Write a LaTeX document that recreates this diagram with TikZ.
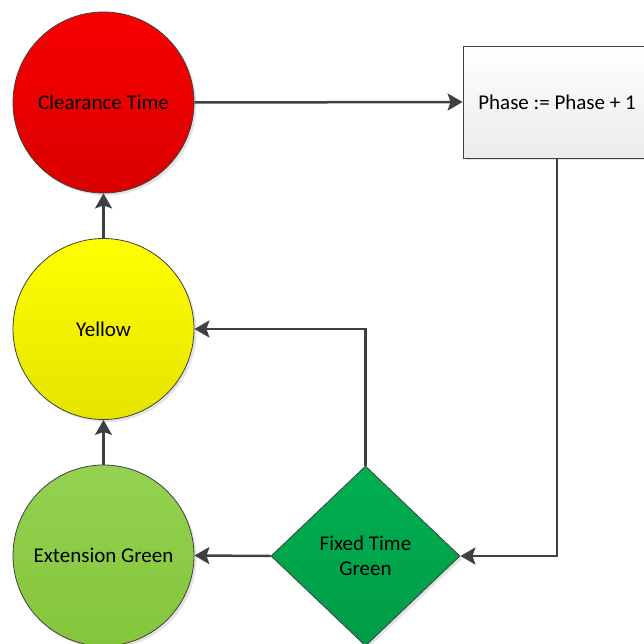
\documentclass[tikz,border=0pt]{standalone}
\usepackage{fontspec}
\setmainfont{Carlito}
\usetikzlibrary{shapes.geometric,arrows.meta,shadows}

\definecolor{edgegray}{HTML}{404040}
\definecolor{flowgray}{HTML}{404040}
\definecolor{redtop}{HTML}{F80000}
\definecolor{redbot}{HTML}{DA0000}
\definecolor{yeltop}{HTML}{FFFF00}
\definecolor{yelbot}{HTML}{E4E400}
\definecolor{lgtop}{HTML}{94D152}
\definecolor{lgbot}{HTML}{84C63A}
\definecolor{dgtop}{HTML}{00B050}
\definecolor{dgbot}{HTML}{009C47}
\definecolor{boxbot}{HTML}{EBEBEB}

\tikzset{
  label font/.style={font=\fontsize{21}{25}\selectfont},
  soft shadow/.style={drop shadow={shadow xshift=2.5pt, shadow yshift=-2.5pt, opacity=0.22, fill=gray}},
  lamp/.style={circle, draw=edgegray, line width=0.8pt, minimum size=181pt, inner sep=0pt,
               label font, soft shadow},
  actionbox/.style={rectangle, draw=edgegray, line width=0.8pt, minimum width=188pt,
               minimum height=112pt, top color=white, bottom color=boxbot, label font, soft shadow},
  decision/.style={diamond, draw=edgegray, line width=0.8pt, minimum width=189pt,
               minimum height=180pt, inner sep=0pt, align=center, top color=dgtop,
               bottom color=dgbot, label font, soft shadow},
  flow/.style={draw=flowgray, line width=2.5pt,
               -{Stealth[length=15pt, width=17pt, inset=3pt]}}
}

\begin{document}
\begin{tikzpicture}[x=1pt, y=-1pt]
  \useasboundingbox (0,0) rectangle (644,644);
  \clip (0,0) rectangle (644,644);

  % signal states
  \node[lamp, top color=redtop, bottom color=redbot] (clear) at (103.5,102.5) {Clearance Time};
  \node[lamp, top color=yeltop, bottom color=yelbot] (yellow) at (103.5,329) {Yellow};
  \node[lamp, top color=lgtop, bottom color=lgbot] (ext) at (103.5,555.5) {Extension Green};

  % phase advance and fixed green decision
  \node[actionbox] (phase) at (557,102) {Phase := Phase + 1};
  \node[decision] (fixed) at (365.5,556) {Fixed Time\\Green};

  % transitions
  \draw[flow] (clear.east) -- (phase.west);
  \draw[flow] (phase.south) |- (fixed.east);
  \draw[flow] (fixed.north) |- (yellow.east);
  \draw[flow] (fixed.west) -- (ext.east);
  \draw[flow] (ext.north) -- (yellow.south);
  \draw[flow] (yellow.north) -- (clear.south);
\end{tikzpicture}
\end{document}
